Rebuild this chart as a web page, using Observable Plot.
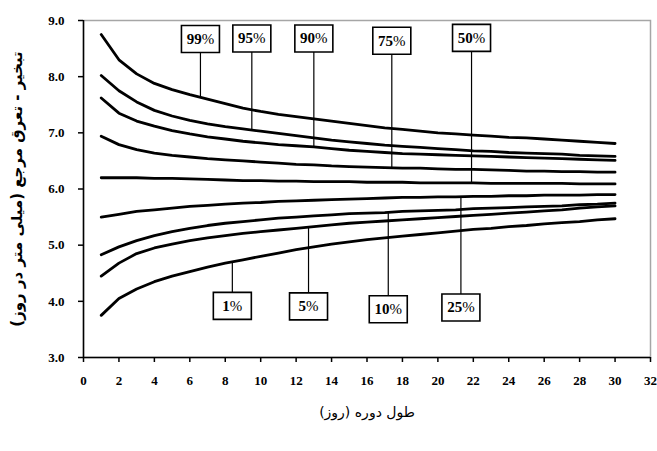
<!DOCTYPE html>
<html>
<head>
<meta charset="utf-8">
<script src="https://cdn.jsdelivr.net/npm/d3@7"></script>
<script src="https://cdn.jsdelivr.net/npm/@observablehq/plot@0.6"></script>
<style>
  html, body { margin: 0; padding: 0; background: white; }
</style>
</head>
<body>
<div id="chart"></div>
<script>
// ---- data ----
const days = [1,2,3,4,5,6,7,8,9,10,11,12,13,14,15,16,17,18,19,20,21,22,23,24,25,26,27,28,29,30];
const p99 = [8.75,8.30,8.05,7.88,7.77,7.68,7.60,7.52,7.44,7.38,7.33,7.29,7.25,7.21,7.17,7.13,7.09,7.06,7.03,7.00,6.98,6.96,6.94,6.92,6.91,6.89,6.87,6.85,6.83,6.81];
const p95 = [8.02,7.75,7.55,7.40,7.30,7.22,7.16,7.11,7.07,7.03,6.99,6.95,6.91,6.87,6.84,6.81,6.78,6.76,6.74,6.72,6.70,6.68,6.67,6.65,6.64,6.63,6.62,6.60,6.59,6.58];
const p90 = [7.62,7.35,7.21,7.12,7.04,6.98,6.93,6.89,6.85,6.82,6.79,6.77,6.75,6.72,6.69,6.67,6.65,6.63,6.62,6.61,6.60,6.59,6.58,6.57,6.56,6.55,6.54,6.53,6.52,6.51];
const p75 = [6.94,6.79,6.70,6.64,6.60,6.57,6.54,6.52,6.50,6.48,6.46,6.44,6.43,6.41,6.40,6.39,6.38,6.37,6.37,6.36,6.35,6.35,6.34,6.33,6.32,6.32,6.31,6.31,6.30,6.30];
const p50 = [6.20,6.20,6.20,6.19,6.19,6.18,6.17,6.16,6.15,6.15,6.14,6.14,6.13,6.13,6.13,6.12,6.12,6.12,6.11,6.11,6.11,6.11,6.10,6.10,6.10,6.10,6.10,6.09,6.09,6.09];
const p25 = [5.50,5.55,5.60,5.63,5.66,5.69,5.71,5.73,5.75,5.76,5.78,5.79,5.80,5.81,5.82,5.83,5.84,5.85,5.85,5.86,5.86,5.87,5.87,5.88,5.88,5.89,5.89,5.89,5.90,5.90];
const p10 = [4.83,4.97,5.08,5.17,5.24,5.30,5.35,5.39,5.42,5.45,5.48,5.50,5.52,5.54,5.56,5.57,5.58,5.60,5.61,5.62,5.63,5.65,5.66,5.67,5.68,5.69,5.70,5.72,5.73,5.75];
const p05 = [4.45,4.68,4.85,4.95,5.02,5.08,5.13,5.17,5.21,5.24,5.27,5.30,5.33,5.36,5.39,5.41,5.43,5.45,5.47,5.49,5.51,5.53,5.55,5.57,5.59,5.61,5.63,5.66,5.68,5.70];
const p01 = [3.75,4.05,4.22,4.35,4.45,4.53,4.61,4.68,4.74,4.80,4.86,4.92,4.97,5.02,5.06,5.10,5.13,5.16,5.19,5.22,5.25,5.28,5.30,5.33,5.35,5.38,5.40,5.42,5.45,5.47];

const curveNames = ["99%","95%","90%","75%","50%","25%","10%","5%","1%"];
const curveValues = [p99, p95, p90, p75, p50, p25, p10, p05, p01];

// callout labels: name, day where the leader meets the curve, vertical position of the box
const labelNames = ["99%","95%","90%","75%","50%","1%","5%","10%","25%"];
const labelDays  = [6.6, 9.5, 13.0, 17.4, 21.9, 8.4, 12.7, 17.2, 21.3];
const labelY     = [8.67, 8.68, 8.68, 8.64, 8.69, 3.92, 3.91, 3.86, 3.89];

const xTicks = [0,2,4,6,8,10,12,14,16,18,20,22,24,26,28,30,32];
const yTicks = [3,4,5,6,7,8,9];

const yTitle = "تبخير - تعرق مرجع (ميلى متر در روز)\u200F";
const xTitle = "طول دوره (روز)\u200F";

// ---- build tables ----
const series = [];
curveNames.forEach((name, i) => {
  days.forEach((d, j) => series.push({p: name, day: d, value: curveValues[i][j]}));
});
function valueAt(name, day) {
  const vals = curveValues[curveNames.indexOf(name)];
  const j = Math.min(days.length - 2, Math.max(0, Math.floor(day) - 1));
  const t = (day - days[j]) / (days[j + 1] - days[j]);
  return vals[j] + t * (vals[j + 1] - vals[j]);
}
const labels = labelNames.map((n, i) => ({
  name: n, day: labelDays[i], labelY: labelY[i], curveY: valueAt(n, labelDays[i])
}));

const boxSymbol = {
  draw(ctx) {
    ctx.moveTo(-19, -13.5);
    ctx.lineTo(19, -13.5);
    ctx.lineTo(19, 13.5);
    ctx.lineTo(-19, 13.5);
    ctx.closePath();
  }
};

const chart = Plot.plot({
  width: 657,
  height: 451,
  marginLeft: 83,
  marginRight: 7,
  marginTop: 20,
  marginBottom: 94,
  x: {domain: [0, 32]},
  y: {domain: [3, 9]},
  style: {
    fontFamily: "'Liberation Serif', 'Times New Roman', serif",
    fontWeight: "bold",
    fontSize: "13px",
    background: "white",
    color: "black"
  },
  marks: [
    Plot.frame({stroke: "#a6a6a6", strokeWidth: 1.5}),
    Plot.axisY({ticks: yTicks, tickFormat: d => d.toFixed(1), tickSize: 5, tickPadding: 14, label: null, strokeWidth: 1.5}),
    Plot.axisX({ticks: xTicks, tickFormat: d => String(d), tickSize: 5, tickPadding: 13, label: null, strokeWidth: 1.5}),
    Plot.ruleX([0], {stroke: "black", strokeWidth: 1.5}),
    Plot.ruleY([3], {stroke: "black", strokeWidth: 1.5}),
    Plot.line(series, {x: "day", y: "value", z: "p", stroke: "black", strokeWidth: 2.8}),
    Plot.ruleX(labels, {x: "day", y1: "labelY", y2: "curveY", stroke: "black", strokeWidth: 1.2}),
    Plot.dot(labels, {x: "day", y: "labelY", symbol: boxSymbol, r: 5, fill: "white", stroke: "black", strokeWidth: 1.6}),
    Plot.text(labels, {x: "day", y: "labelY", text: "name", fontSize: 15, fontWeight: "bold", fill: "black", textAnchor: "middle", lineAnchor: "middle"}),
    Plot.text([yTitle], {text: d => d, frameAnchor: "left", rotate: -90, dx: -66, textAnchor: "middle", lineAnchor: "middle", fontFamily: "'DejaVu Sans', sans-serif", fontSize: 15, fontWeight: "bold", fill: "black"}),
    Plot.text([xTitle], {text: d => d, frameAnchor: "bottom", dy: 55, textAnchor: "middle", lineAnchor: "middle", fontFamily: "'DejaVu Sans', sans-serif", fontSize: 14, fontWeight: "normal", fill: "black"})
  ]
});

document.getElementById("chart").appendChild(chart);

// percent sign in normal weight, digits bold
chart.querySelectorAll("text").forEach(t => {
  const s = t.textContent;
  const m = /^(\d+)%$/.exec(s);
  if (m) {
    t.textContent = "";
    const a = document.createElementNS("http://www.w3.org/2000/svg", "tspan");
    a.setAttribute("font-weight", "bold");
    a.textContent = m[1];
    const b = document.createElementNS("http://www.w3.org/2000/svg", "tspan");
    b.setAttribute("font-weight", "normal");
    b.textContent = "%";
    t.appendChild(a);
    t.appendChild(b);
  }
});
</script>
</body>
</html>
